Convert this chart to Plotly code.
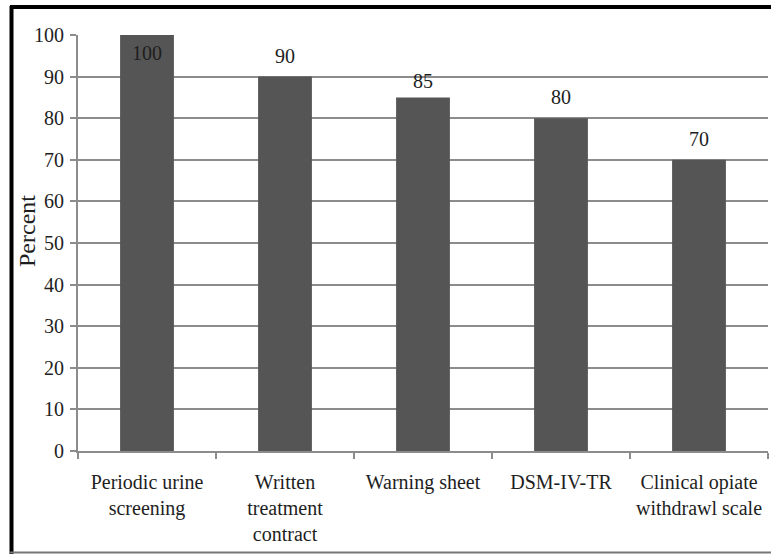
import plotly.graph_objects as go

categories = ["Periodic urine screening", "Written treatment contract", "Warning sheet",
              "DSM-IV-TR", "Clinical opiate withdrawl scale"]
tick_labels = ["Periodic urine<br>screening", "Written<br>treatment<br>contract", "Warning sheet",
               "DSM-IV-TR", "Clinical opiate<br>withdrawl scale"]
values = [100, 90, 85, 80, 70]
y_ticks = [0, 10, 20, 30, 40, 50, 60, 70, 80, 90, 100]
y_title = "Percent"

W, H = 771, 555
ML, MR, MT, MB = 78, 3, 35, 104
PW, PH = W - ML - MR, H - MT - MB

def px_x(px):
    return (px - ML) / PW

def px_y(py):
    return (H - MB - py) / PH

GRID = "#8c8c8c"
BAR = "#555555"
TXT = "#1e1e1e"
serif = "Liberation Serif"

fig = go.Figure()
fig.add_trace(go.Bar(x=categories, y=values, marker=dict(color=BAR, line=dict(width=0)),
                     width=0.39, showlegend=False, hoverinfo="skip"))

annotations = []
for c, v in zip(categories, values):
    inside = v >= 100
    annotations.append(dict(
        x=c, y=v, xref="x", yref="y", text=str(v), showarrow=False,
        yanchor="top" if inside else "bottom",
        yshift=-5 if inside else (3 if v == 85 else 8),
        font=dict(family=serif, size=20, color=TXT),
    ))

annotations.append(dict(
    x=px_x(27), y=px_y(231), xref="paper", yref="paper", text=y_title,
    showarrow=False, textangle=-90, xanchor="center", yanchor="middle",
    font=dict(family=serif, size=24, color=TXT),
))

shapes = [
    dict(type="line", xref="paper", yref="paper", x0=px_x(11.5), x1=px_x(11.5),
         y0=px_y(6), y1=px_y(554), line=dict(color="black", width=4)),
    dict(type="line", xref="paper", yref="paper", x0=px_x(10), x1=px_x(775),
         y0=px_y(7), y1=px_y(7), line=dict(color="black", width=4)),
    dict(type="line", xref="paper", yref="paper", x0=px_x(10), x1=px_x(775),
         y0=px_y(552.5), y1=px_y(552.5), line=dict(color="#777777", width=2)),
]

fig.update_layout(
    width=W, height=H,
    margin=dict(l=ML, r=MR, t=MT, b=MB),
    paper_bgcolor="white", plot_bgcolor="white",
    bargap=0.61,
    annotations=annotations,
    shapes=shapes,
    xaxis=dict(
        type="category", tickmode="array", tickvals=categories, ticktext=tick_labels,
        tickson="boundaries", ticks="outside", ticklen=6, tickcolor=GRID, tickwidth=2,
        showline=True, linecolor=GRID, linewidth=2, showgrid=False,
        tickfont=dict(family=serif, size=20, color=TXT),
        ticklabelstandoff=12, automargin=False,
    ),
    yaxis=dict(
        range=[0, 100], tickmode="array", tickvals=y_ticks,
        ticks="outside", ticklen=6, tickcolor=GRID, tickwidth=2,
        showline=True, linecolor=GRID, linewidth=2,
        showgrid=True, gridcolor=GRID, gridwidth=2, zeroline=False,
        tickfont=dict(family=serif, size=20, color=TXT),
        ticklabelstandoff=2, automargin=False,
    ),
)

fig.write_html("out.html")
